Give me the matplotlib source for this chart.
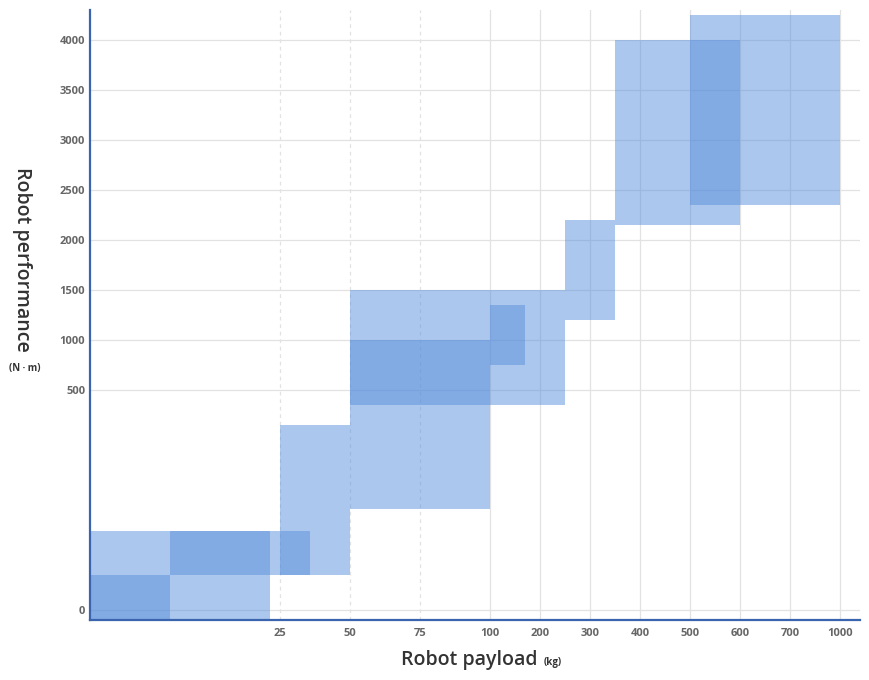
"""
Robot payload vs robot performance: overlapping range boxes.
Saves out.png.
"""

import numpy as np
import matplotlib

matplotlib.use("Agg")
import matplotlib.pyplot as plt

plt.rcParams["font.family"] = ["Open Sans", "DejaVu Sans"]

# ranges per robot class (payload kg, performance N·m)
payload_min = [0, 0, 10.5, 25, 50, 50, 100, 250, 350, 500]
payload_max = [23.7, 10.5, 35.7, 50, 100, 250, 170, 350, 600, 1000]
perf_min = [-23, -23, 80, 80, 230, 466, 750, 1200, 2150, 2350]
perf_max = [180, 80, 180, 420, 1000, 1500, 1350, 2200, 4000, 4250]

payload_ticks = [25, 50, 75, 100, 200, 300, 400, 500, 600, 700, 1000]
perf_ticks = [0, 500, 1000, 1500, 2000, 2500, 3000, 3500, 4000]

# piecewise axis: the small values get more room
X_DATA = [-10, 0, 25, 100, 700, 1000, 1500]
X_UNITS = [-76, 0, 190, 400, 700, 750, 805]
Y_DATA = [-100, 0, 500, 5000]
Y_UNITS = [-44, 0, 220, 670]

BOX_COLOR = "#578edc"
SPINE_COLOR = "#3a64ad"
GRID_COLOR = "#e2e2e2"


def piecewise(data, units):
    fwd = lambda v: np.interp(v, data, units)
    inv = lambda u: np.interp(u, units, data)
    return fwd, inv


def plot_ranges():
    fig = plt.figure(figsize=(8.7, 6.8), dpi=100)
    ax = fig.add_axes([90 / 870, 60 / 680, 770 / 870, 610 / 680])

    ax.set_xscale("function", functions=piecewise(X_DATA, X_UNITS))
    ax.set_yscale("function", functions=piecewise(Y_DATA, Y_UNITS))
    ax.set_xlim(0, 1182)
    ax.set_ylim(-22.7, 4300)

    # grid
    for t in payload_ticks:
        ls = (0, (3, 3)) if t < 100 else "-"
        ax.axvline(t, color=GRID_COLOR, lw=0.9, ls=ls, zorder=0)
    for t in perf_ticks:
        ax.axhline(t, color=GRID_COLOR, lw=0.9, zorder=0)

    for x0, x1, y0, y1 in zip(payload_min, payload_max, perf_min, perf_max):
        ax.fill_between([x0, x1], y0, y1, color=BOX_COLOR, alpha=0.49, lw=0, zorder=2)

    ax.set_xticks(payload_ticks)
    ax.set_xticklabels([str(t) for t in payload_ticks])
    ax.set_yticks(perf_ticks)
    ax.set_yticklabels([str(t) for t in perf_ticks])
    ax.xaxis.set_minor_locator(matplotlib.ticker.NullLocator())
    ax.yaxis.set_minor_locator(matplotlib.ticker.NullLocator())
    ax.tick_params(length=0, labelsize=8, labelcolor="#666666")
    ax.tick_params(axis="x", pad=6)
    ax.tick_params(axis="y", pad=3.5)
    for lbl in ax.get_xticklabels() + ax.get_yticklabels():
        lbl.set_fontweight("bold")

    for side in ["top", "right"]:
        ax.spines[side].set_visible(False)
    for side in ["left", "bottom"]:
        ax.spines[side].set_color(SPINE_COLOR)
        ax.spines[side].set_linewidth(1.6)
        ax.spines[side].set_zorder(5)

    # axis titles with small unit text
    fig.text(538 / 870, 1 - 660 / 680, "Robot payload", ha="right", va="center",
             fontsize=14, fontweight="semibold", color="#333333")
    fig.text(544 / 870, 1 - 663 / 680, "(kg)", ha="left", va="center",
             fontsize=7, fontweight="bold", color="#333333")
    fig.text(22 / 870, 1 - 259 / 680, "Robot performance", ha="center", va="center",
             rotation=270, fontsize=14, fontweight="semibold", color="#333333")
    fig.text(25 / 870, 1 - 368 / 680, "(N \u00b7 m)", ha="center", va="center",
             fontsize=7, fontweight="bold", color="#333333")

    fig.savefig("out.png", dpi=100)
    plt.close(fig)


if __name__ == "__main__":
    plot_ranges()
